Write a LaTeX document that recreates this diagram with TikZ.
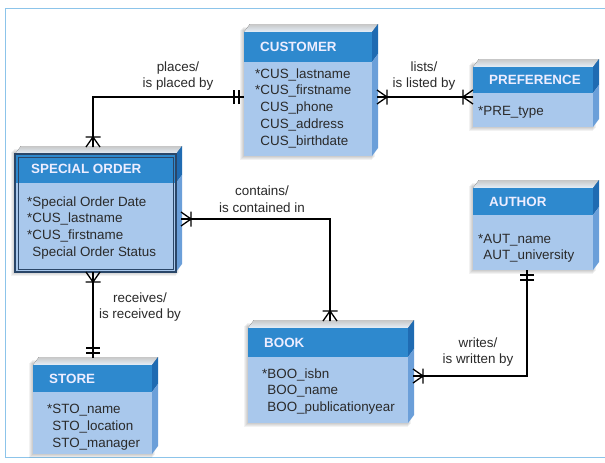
\documentclass[tikz,border=0pt]{standalone}
\usepackage{fontspec}
\setmainfont{Liberation Sans}
\usetikzlibrary{calc}
\definecolor{hdr}{HTML}{2E89CE}
\definecolor{hdrside}{HTML}{1F6BB2}
\definecolor{bdy}{HTML}{A9C8EC}
\definecolor{bdyside}{HTML}{6B9FD9}
\definecolor{framec}{HTML}{8CC4EA}
\definecolor{txt}{HTML}{2A2A2A}
\definecolor{navy}{HTML}{2A4668}
\newcommand{\ertitlefont}{\bfseries\fontsize{13.4}{16}\selectfont}
\newcommand{\erbodyfont}{\fontsize{13.4}{16.9}\selectfont}
\tikzset{
  conn/.style={draw=black, line width=1.3pt},
  rel/.style={font=\erbodyfont, text=txt, align=center, inner sep=0},
  front/.style={fill=bdy, inner sep=0, outer sep=0},
  pics/crowmany/.style={code={\draw[conn] (0,-7)--(10,0) (0,0)--(10,0) (0,7)--(10,0) (10,-7.5)--(10,7.5);}},
  pics/onlyone/.style={code={\draw[conn] (5,-7)--(5,7) (10,-7)--(10,7);}},
}
% #1 name, #2 x1, #3 y1, #4 x2, #5 header bottom, #6 y2, #7 title, #8 attributes, #9 attribute offset
\newcommand{\erent}[9]{%
  \foreach \s in {1,2,3,4}{\fill[black,opacity=0.05] (#2-\s,#3-6+\s) rectangle (#4+4-\s,#6+\s);}
  \fill[top color=black!22, bottom color=bdy!30!white] (#2,#3) -- (#2+6,#3-8) -- (#4+6,#3-8) -- (#4,#3) -- cycle;
  \fill[hdrside] (#4,#3) -- (#4+6,#3-8) -- (#4+6,#5-8) -- (#4,#5) -- cycle;
  \fill[bdyside] (#4,#5) -- (#4+6,#5-8) -- (#4+6,#6-8) -- (#4,#6) -- cycle;
  \node[front, minimum width={#4-#2}, minimum height={#6-#3}] (#1) at ({(#2+#4)/2},{(#3+#6)/2}) {};
  \fill[hdr] (#1.north west) rectangle (#4,#5);
  \node[anchor=west, inner sep=0, text=white!93!blue, font=\ertitlefont] (#1-title) at (#2+16,{(#3+#5)/2}) {#7};
  \node[anchor=north west, inner sep=0, align=left, text=txt, font=\erbodyfont] (#1-attr) at ([shift={(#9)}]#2,#5) {\strut#8};
}
\begin{document}
\begin{tikzpicture}[x=1pt,y=-1pt]
\useasboundingbox (0,0) rectangle (605,463);
\fill[white] (0,0) rectangle (605,463);
\draw[framec, line width=1pt] (605,8) -- (5,8) -- (5,457) -- (605,457);

\erent{cus}{244}{32}{372}{62}{156}{CUSTOMER}{*CUS\_lastname\\*CUS\_firstname\\\hphantom{*}CUS\_phone\\\hphantom{*}CUS\_address\\\hphantom{*}CUS\_birthdate}{11,4}
\erent{pref}{473}{67}{593}{93}{127}{PREFERENCE}{*PRE\_type}{5,10}
\erent{auth}{473}{188}{593}{215}{270}{AUTHOR}{*AUT\_name\\\hphantom{*}AUT\_university}{5,16}
\erent{so}{15}{154}{176}{183}{272}{SPECIAL ORDER}{*Special Order Date\\*CUS\_lastname\\*CUS\_firstname\\\hphantom{*}Special Order Status}{12,11}
\draw[navy, line width=1.1pt] (so.north west) rectangle (so.south east);
\draw[navy, line width=0.9pt] ($(so.north west)+(3,3)$) rectangle ($(so.south east)+(-3,-3)$);
\erent{book}{248}{328}{408}{357}{423}{BOOK}{*BOO\_isbn\\\hphantom{*}BOO\_name\\\hphantom{*}BOO\_publicationyear}{14,9}
\erent{store}{33}{365}{152}{392}{454}{STORE}{*STO\_name\\\hphantom{*}STO\_location\\\hphantom{*}STO\_manager}{14,9.5}

% places
\coordinate (p1) at (93,97);
\draw[conn] ($(so.north -| p1)+(0,-7)$) -- (p1) -- (cus.west |- p1);
\pic[rotate=90] at ($(so.north -| p1)+(0,-7)$) {crowmany};
\pic[rotate=180] at (cus.west |- p1) {onlyone};
\node[rel] (l1) at (178,76) {places/\\is placed by};

% lists
\draw[conn] ($(cus.east |- p1)+(5,0)$) -- (pref.west |- p1);
\pic at ($(cus.east |- p1)+(5,0)$) {crowmany};
\pic[rotate=180] at (pref.west |- p1) {crowmany};
\node[rel] (l2) at (424,76) {lists/\\is listed by};

% contains
\coordinate (p2) at (330,219);
\draw[conn] ($(so.east |- p2)+(5,0)$) -- (p2) -- ($(book.north -| p2)+(0,-7)$);
\pic at ($(so.east |- p2)+(5,0)$) {crowmany};
\pic[rotate=90] at ($(book.north -| p2)+(0,-7)$) {crowmany};
\node[rel] (l3) at (262,199) {contains/\\is contained in};

% receives
\draw[conn] (so.south -| p1) -- ($(store.north -| p1)+(0,-7)$);
\pic[rotate=-90] at (so.south -| p1) {crowmany};
\pic[rotate=90] at ($(store.north -| p1)+(0,-7)$) {onlyone};
\node[rel] (l4) at (140,307) {receives/\\is received by};

% writes
\coordinate (p3) at (527,376);
\draw[conn] ($(book.east |- p3)+(5,0)$) -- (p3) -- (auth.south -| p3);
\pic at ($(book.east |- p3)+(5,0)$) {crowmany};
\pic[rotate=-90] at (auth.south -| p3) {onlyone};
\node[rel] (l5) at (478,352) {writes/\\is written by};
\end{tikzpicture}
\end{document}
